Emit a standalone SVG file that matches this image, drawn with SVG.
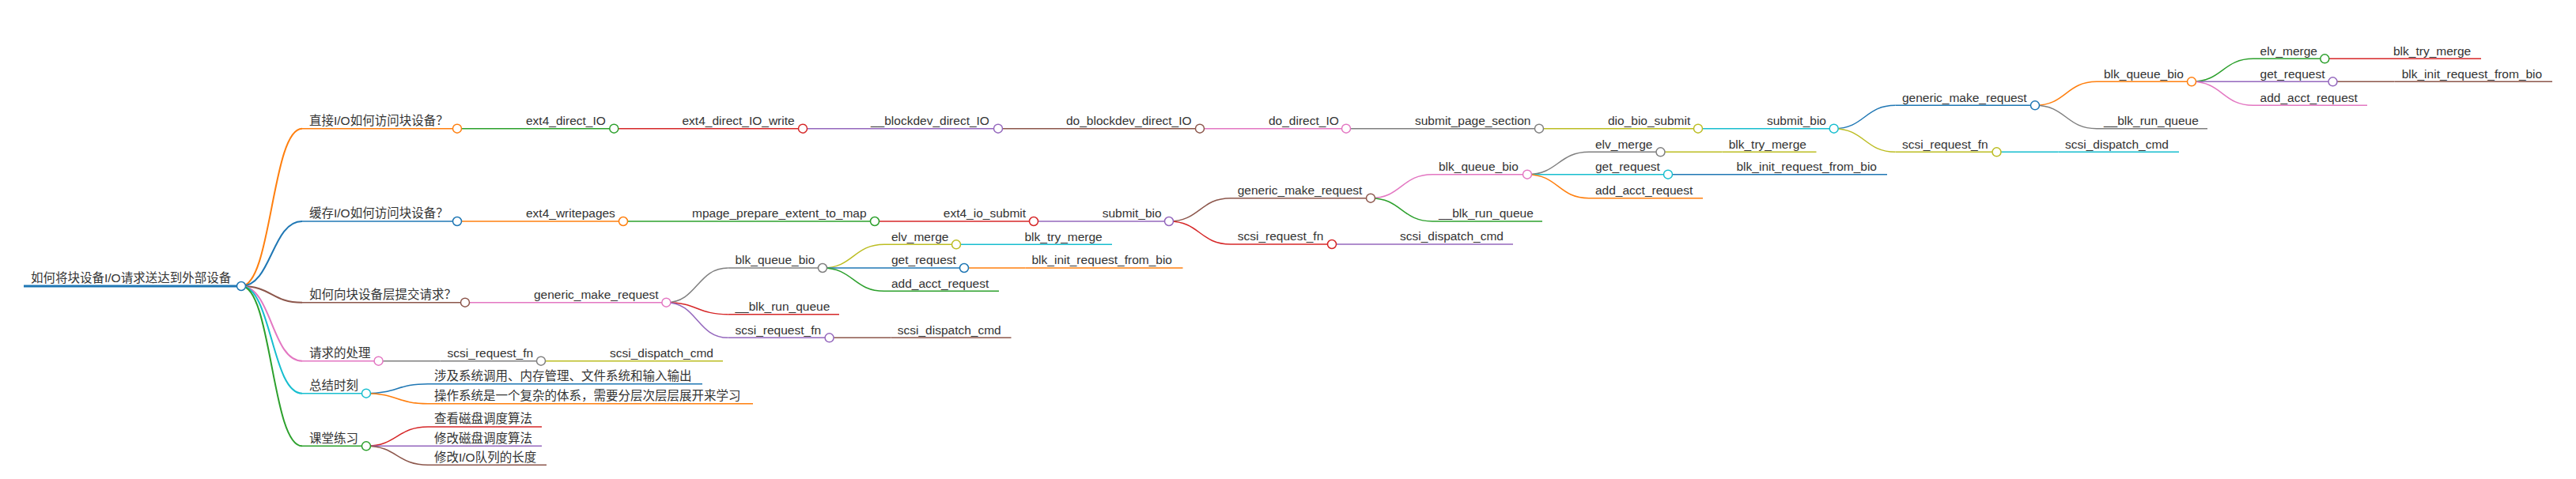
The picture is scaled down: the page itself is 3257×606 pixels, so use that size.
<svg xmlns="http://www.w3.org/2000/svg" width="3257" height="606" viewBox="0 0 3257 606">
<style>
.t{font-family:"Liberation Sans","Noto Sans CJK SC",sans-serif;font-size:15.5px;fill:#333}
.ln{stroke-width:1.5;fill:none}
.lk path{fill:none;stroke-width:1.5}
.lk .w2{stroke-width:2}
circle{fill:#fff;stroke-width:1.5}
.blue{stroke:#1f77b4}.orange{stroke:#ff7f0e}.green{stroke:#2ca02c}.red{stroke:#d62728}.purple{stroke:#9467bd}
.brown{stroke:#8c564b}.pink{stroke:#e377c2}.gray{stroke:#7f7f7f}.olive{stroke:#bcbd22}.cyan{stroke:#17becf}
</style>
<rect width="3257" height="606" fill="#fff"/>
<g id="connectors" class="lk">
<path class="orange w2" d="M305,362 C343.5,362 343.5,162.7 382,162.7"/>
<path class="blue w2" d="M305,362 C343.5,362 343.5,280 382,280"/>
<path class="brown w2" d="M305,362 C343.5,362 343.5,382.7 382,382.7"/>
<path class="pink w2" d="M305,362 C343.5,362 343.5,456.7 382,456.7"/>
<path class="cyan w2" d="M305,362 C343.5,362 343.5,497.7 382,497.7"/>
<path class="green w2" d="M305,362 C343.5,362 343.5,564.3 382,564.3"/>
<path class="green" d="M578,162.7 L656,162.7"/>
<path class="red" d="M776.3,162.7 L854,162.7"/>
<path class="purple" d="M1015,162.7 L1093,162.7"/>
<path class="brown" d="M1262,162.7 L1340,162.7"/>
<path class="pink" d="M1517,162.7 L1595,162.7"/>
<path class="gray" d="M1702,162.7 L1780,162.7"/>
<path class="olive" d="M1946,162.7 L2024,162.7"/>
<path class="cyan" d="M2147,162.7 L2225,162.7"/>
<path class="blue" d="M2318.7,162.7 C2357.6,162.7 2357.6,133.3 2396.5,133.3"/>
<path class="olive" d="M2318.7,162.7 C2357.6,162.7 2357.6,192.3 2396.5,192.3"/>
<path class="orange" d="M2573,133.3 C2612,133.3 2612,103.3 2651,103.3"/>
<path class="gray" d="M2573,133.3 C2612,133.3 2612,162.7 2651,162.7"/>
<path class="green" d="M2771,103.3 C2810,103.3 2810,74.3 2849,74.3"/>
<path class="purple" d="M2771,103.3 L2849,103.3"/>
<path class="pink" d="M2771,103.3 C2810,103.3 2810,133.3 2849,133.3"/>
<path class="red" d="M2939.3,74.3 L3017,74.3"/>
<path class="brown" d="M2949.5,103.3 L3027.5,103.3"/>
<path class="cyan" d="M2524.5,192.3 L2602.5,192.3"/>
<path class="orange" d="M578,280 L656,280"/>
<path class="green" d="M788,280 L866,280"/>
<path class="red" d="M1106,280 L1184,280"/>
<path class="purple" d="M1307,280 L1385,280"/>
<path class="brown" d="M1478,280 C1517,280 1517,250.7 1556,250.7"/>
<path class="red" d="M1478,280 C1517,280 1517,309 1556,309"/>
<path class="pink" d="M1733,250.7 C1772,250.7 1772,220.7 1811,220.7"/>
<path class="green" d="M1733,250.7 C1772,250.7 1772,280 1811,280"/>
<path class="gray" d="M1931,220.7 C1970,220.7 1970,192.3 2009,192.3"/>
<path class="cyan" d="M1931,220.7 L2009,220.7"/>
<path class="orange" d="M1931,220.7 C1970,220.7 1970,250.7 2009,250.7"/>
<path class="olive" d="M2099.5,192.3 L2177.5,192.3"/>
<path class="blue" d="M2109,220.7 L2187,220.7"/>
<path class="purple" d="M1684,309 L1762,309"/>
<path class="pink" d="M588,382.7 L666,382.7"/>
<path class="gray" d="M842.4,382.7 C881.5,382.7 881.5,339 920.5,339"/>
<path class="red" d="M842.4,382.7 C881.5,382.7 881.5,397.7 920.5,397.7"/>
<path class="purple" d="M842.4,382.7 C881.5,382.7 881.5,427.3 920.5,427.3"/>
<path class="olive" d="M1040,339 C1079,339 1079,309.3 1118,309.3"/>
<path class="blue" d="M1040,339 L1118,339"/>
<path class="green" d="M1040,339 C1079,339 1079,368.3 1118,368.3"/>
<path class="cyan" d="M1209,309.3 L1287,309.3"/>
<path class="orange" d="M1219,339 L1296.5,339"/>
<path class="brown" d="M1048.6,427.3 L1126.5,427.3"/>
<path class="gray" d="M478.6,456.7 L556.5,456.7"/>
<path class="olive" d="M684,456.7 L762,456.7"/>
<path class="blue" d="M463,497.7 C502,497.7 502,485.7 541,485.7"/>
<path class="orange" d="M463,497.7 C502,497.7 502,510.7 541,510.7"/>
<path class="red" d="M463,564.3 C502,564.3 502,540 541,540"/>
<path class="purple" d="M463,564.3 L541,564.3"/>
<path class="brown" d="M463,564.3 C502,564.3 502,588.3 541,588.3"/>
</g>

<g id="n-root"><line class="blue" stroke-width="3" x1="30" y1="362" x2="305" y2="362"/><text class="t" x="39" y="357">如何将块设备I/O请求送达到外部设备</text><circle class="blue" cx="305" cy="362" r="5.5"/></g>

<g id="n-a"><line class="ln orange" x1="382" y1="162.7" x2="578" y2="162.7" stroke-width="2"/><text class="t" x="391" y="158">直接I/O如何访问块设备？</text><circle class="orange" cx="578" cy="162.7" r="5.5"/></g>
<g id="n-a1"><line class="ln green" x1="656" y1="162.7" x2="776.3" y2="162.7"/><text class="t" x="665" y="158">ext4_direct_IO</text><circle class="green" cx="776.3" cy="162.7" r="5.5"/></g>
<g id="n-a2"><line class="ln red" x1="854" y1="162.7" x2="1015" y2="162.7"/><text class="t" x="862.5" y="158">ext4_direct_IO_write</text><circle class="red" cx="1015" cy="162.7" r="5.5"/></g>
<g id="n-a3"><line class="ln purple" x1="1093" y1="162.7" x2="1262" y2="162.7"/><text class="t" x="1101" y="158">__blockdev_direct_IO</text><circle class="purple" cx="1262" cy="162.7" r="5.5"/></g>
<g id="n-a4"><line class="ln brown" x1="1340" y1="162.7" x2="1517" y2="162.7"/><text class="t" x="1348" y="158">do_blockdev_direct_IO</text><circle class="brown" cx="1517" cy="162.7" r="5.5"/></g>
<g id="n-a5"><line class="ln pink" x1="1595" y1="162.7" x2="1702" y2="162.7"/><text class="t" x="1604" y="158">do_direct_IO</text><circle class="pink" cx="1702" cy="162.7" r="5.5"/></g>
<g id="n-a6"><line class="ln gray" x1="1780" y1="162.7" x2="1946" y2="162.7"/><text class="t" x="1789" y="158">submit_page_section</text><circle class="gray" cx="1946" cy="162.7" r="5.5"/></g>
<g id="n-a7"><line class="ln olive" x1="2024" y1="162.7" x2="2147" y2="162.7"/><text class="t" x="2033" y="158">dio_bio_submit</text><circle class="olive" cx="2147" cy="162.7" r="5.5"/></g>
<g id="n-a8"><line class="ln cyan" x1="2225" y1="162.7" x2="2318.7" y2="162.7"/><text class="t" x="2234" y="158">submit_bio</text><circle class="cyan" cx="2318.7" cy="162.7" r="5.5"/></g>
<g id="n-a9"><line class="ln blue" x1="2396.5" y1="133.3" x2="2573" y2="133.3"/><text class="t" x="2405" y="128.5">generic_make_request</text><circle class="blue" cx="2573" cy="133.3" r="5.5"/></g>
<g id="n-a10"><line class="ln orange" x1="2651" y1="103.3" x2="2771" y2="103.3"/><text class="t" x="2660" y="98.5">blk_queue_bio</text><circle class="orange" cx="2771" cy="103.3" r="5.5"/></g>
<g id="n-a11"><line class="ln green" x1="2849" y1="74.3" x2="2939.3" y2="74.3"/><text class="t" x="2857.6" y="69.5">elv_merge</text><circle class="green" cx="2939.3" cy="74.3" r="5.5"/></g>
<g id="n-a12"><line class="ln red" x1="3017" y1="74.3" x2="3137" y2="74.3"/><text class="t" x="3026" y="69.5">blk_try_merge</text></g>
<g id="n-a13"><line class="ln purple" x1="2849" y1="103.3" x2="2949.5" y2="103.3"/><text class="t" x="2857.6" y="98.5">get_request</text><circle class="purple" cx="2949.5" cy="103.3" r="5.5"/></g>
<g id="n-a14"><line class="ln brown" x1="3027.5" y1="103.3" x2="3227" y2="103.3"/><text class="t" x="3036.7" y="98.5">blk_init_request_from_bio</text></g>
<g id="n-a15"><line class="ln pink" x1="2849" y1="133.3" x2="2993" y2="133.3"/><text class="t" x="2857.6" y="128.5">add_acct_request</text></g>
<g id="n-a16"><line class="ln gray" x1="2651" y1="162.7" x2="2791" y2="162.7"/><text class="t" x="2660" y="158">__blk_run_queue</text></g>
<g id="n-a17"><line class="ln olive" x1="2396.5" y1="192.3" x2="2524.5" y2="192.3"/><text class="t" x="2405" y="187.5">scsi_request_fn</text><circle class="olive" cx="2524.5" cy="192.3" r="5.5"/></g>
<g id="n-a18"><line class="ln cyan" x1="2602.5" y1="192.3" x2="2755" y2="192.3"/><text class="t" x="2611" y="187.5">scsi_dispatch_cmd</text></g>

<g id="n-b"><line class="ln blue" x1="382" y1="280" x2="578" y2="280" stroke-width="2"/><text class="t" x="391" y="275.3">缓存I/O如何访问块设备？</text><circle class="blue" cx="578" cy="280" r="5.5"/></g>
<g id="n-b1"><line class="ln orange" x1="656" y1="280" x2="788" y2="280"/><text class="t" x="665" y="275.3">ext4_writepages</text><circle class="orange" cx="788" cy="280" r="5.5"/></g>
<g id="n-b2"><line class="ln green" x1="866" y1="280" x2="1106" y2="280"/><text class="t" x="875" y="275.3">mpage_prepare_extent_to_map</text><circle class="green" cx="1106" cy="280" r="5.5"/></g>
<g id="n-b3"><line class="ln red" x1="1184" y1="280" x2="1307" y2="280"/><text class="t" x="1192.8" y="275.3">ext4_io_submit</text><circle class="red" cx="1307" cy="280" r="5.5"/></g>
<g id="n-b4"><line class="ln purple" x1="1385" y1="280" x2="1478" y2="280"/><text class="t" x="1393.7" y="275.3">submit_bio</text><circle class="purple" cx="1478" cy="280" r="5.5"/></g>
<g id="n-b5"><line class="ln brown" x1="1556" y1="250.7" x2="1733" y2="250.7"/><text class="t" x="1564.7" y="246">generic_make_request</text><circle class="brown" cx="1733" cy="250.7" r="5.5"/></g>
<g id="n-b6"><line class="ln pink" x1="1811" y1="220.7" x2="1931" y2="220.7"/><text class="t" x="1819" y="216">blk_queue_bio</text><circle class="pink" cx="1931" cy="220.7" r="5.5"/></g>
<g id="n-b7"><line class="ln gray" x1="2009" y1="192.3" x2="2099.5" y2="192.3"/><text class="t" x="2017" y="187.5">elv_merge</text><circle class="gray" cx="2099.5" cy="192.3" r="5.5"/></g>
<g id="n-b8"><line class="ln olive" x1="2177.5" y1="192.3" x2="2296.5" y2="192.3"/><text class="t" x="2185.7" y="187.5">blk_try_merge</text></g>
<g id="n-b9"><line class="ln cyan" x1="2009" y1="220.7" x2="2109" y2="220.7"/><text class="t" x="2017" y="216">get_request</text><circle class="cyan" cx="2109" cy="220.7" r="5.5"/></g>
<g id="n-b10"><line class="ln blue" x1="2187" y1="220.7" x2="2386" y2="220.7"/><text class="t" x="2195.5" y="216">blk_init_request_from_bio</text></g>
<g id="n-b11"><line class="ln orange" x1="2009" y1="250.7" x2="2153" y2="250.7"/><text class="t" x="2017" y="246">add_acct_request</text></g>
<g id="n-b12"><line class="ln green" x1="1811" y1="280" x2="1950" y2="280"/><text class="t" x="1819" y="275.3">__blk_run_queue</text></g>
<g id="n-b13"><line class="ln red" x1="1556" y1="309" x2="1684" y2="309"/><text class="t" x="1564.7" y="304.3">scsi_request_fn</text><circle class="red" cx="1684" cy="309" r="5.5"/></g>
<g id="n-b14"><line class="ln purple" x1="1762" y1="309" x2="1913" y2="309"/><text class="t" x="1770" y="304.3">scsi_dispatch_cmd</text></g>

<g id="n-c"><line class="ln brown" x1="382" y1="382.7" x2="588" y2="382.7" stroke-width="2"/><text class="t" x="391" y="378">如何向块设备层提交请求？</text><circle class="brown" cx="588" cy="382.7" r="5.5"/></g>
<g id="n-c1"><line class="ln pink" x1="666" y1="382.7" x2="842.4" y2="382.7"/><text class="t" x="675" y="378">generic_make_request</text><circle class="pink" cx="842.4" cy="382.7" r="5.5"/></g>
<g id="n-c2"><line class="ln gray" x1="920.5" y1="339" x2="1040" y2="339"/><text class="t" x="929.5" y="334.3">blk_queue_bio</text><circle class="gray" cx="1040" cy="339" r="5.5"/></g>
<g id="n-c3"><line class="ln olive" x1="1118" y1="309.3" x2="1209" y2="309.3"/><text class="t" x="1127" y="304.6">elv_merge</text><circle class="olive" cx="1209" cy="309.3" r="5.5"/></g>
<g id="n-c4"><line class="ln cyan" x1="1287" y1="309.3" x2="1406" y2="309.3"/><text class="t" x="1295.5" y="304.6">blk_try_merge</text></g>
<g id="n-c5"><line class="ln blue" x1="1118" y1="339" x2="1219" y2="339"/><text class="t" x="1127" y="334.3">get_request</text><circle class="blue" cx="1219" cy="339" r="5.5"/></g>
<g id="n-c6"><line class="ln orange" x1="1296.5" y1="339" x2="1495.5" y2="339"/><text class="t" x="1304.5" y="334.3">blk_init_request_from_bio</text></g>
<g id="n-c7"><line class="ln green" x1="1118" y1="368.3" x2="1263" y2="368.3"/><text class="t" x="1127" y="363.6">add_acct_request</text></g>
<g id="n-c8"><line class="ln red" x1="920.5" y1="397.7" x2="1061" y2="397.7"/><text class="t" x="929.5" y="393">__blk_run_queue</text></g>
<g id="n-c9"><line class="ln purple" x1="920.5" y1="427.3" x2="1048.6" y2="427.3"/><text class="t" x="929.5" y="422.6">scsi_request_fn</text><circle class="purple" cx="1048.6" cy="427.3" r="5.5"/></g>
<g id="n-c10"><line class="ln brown" x1="1126.5" y1="427.3" x2="1278.5" y2="427.3"/><text class="t" x="1134.8" y="422.6">scsi_dispatch_cmd</text></g>

<g id="n-d"><line class="ln pink" x1="382" y1="456.7" x2="478.6" y2="456.7" stroke-width="2"/><text class="t" x="391" y="452">请求的处理</text><circle class="pink" cx="478.6" cy="456.7" r="5.5"/></g>
<g id="n-d1"><line class="ln gray" x1="556.5" y1="456.7" x2="684" y2="456.7"/><text class="t" x="565.6" y="452">scsi_request_fn</text><circle class="gray" cx="684" cy="456.7" r="5.5"/></g>
<g id="n-d2"><line class="ln olive" x1="762" y1="456.7" x2="914" y2="456.7"/><text class="t" x="771" y="452">scsi_dispatch_cmd</text></g>

<g id="n-e"><line class="ln cyan" x1="382" y1="497.7" x2="463" y2="497.7" stroke-width="2"/><text class="t" x="391" y="493">总结时刻</text><circle class="cyan" cx="463" cy="497.7" r="5.5"/></g>
<g id="n-e1"><line class="ln blue" x1="541" y1="485.7" x2="888" y2="485.7"/><text class="t" x="549" y="481">涉及系统调用、内存管理、文件系统和输入输出</text></g>
<g id="n-e2"><line class="ln orange" x1="541" y1="510.7" x2="952" y2="510.7"/><text class="t" x="549" y="506">操作系统是一个复杂的体系，需要分层次层层展开来学习</text></g>

<g id="n-f"><line class="ln green" x1="382" y1="564.3" x2="463" y2="564.3" stroke-width="2"/><text class="t" x="391" y="559.6">课堂练习</text><circle class="green" cx="463" cy="564.3" r="5.5"/></g>
<g id="n-f1"><line class="ln red" x1="541" y1="540" x2="685" y2="540"/><text class="t" x="549" y="535.3">查看磁盘调度算法</text></g>
<g id="n-f2"><line class="ln purple" x1="541" y1="564.3" x2="685" y2="564.3"/><text class="t" x="549" y="559.6">修改磁盘调度算法</text></g>
<g id="n-f3"><line class="ln brown" x1="541" y1="588.3" x2="691" y2="588.3"/><text class="t" x="549" y="583.6">修改I/O队列的长度</text></g>
</svg>
